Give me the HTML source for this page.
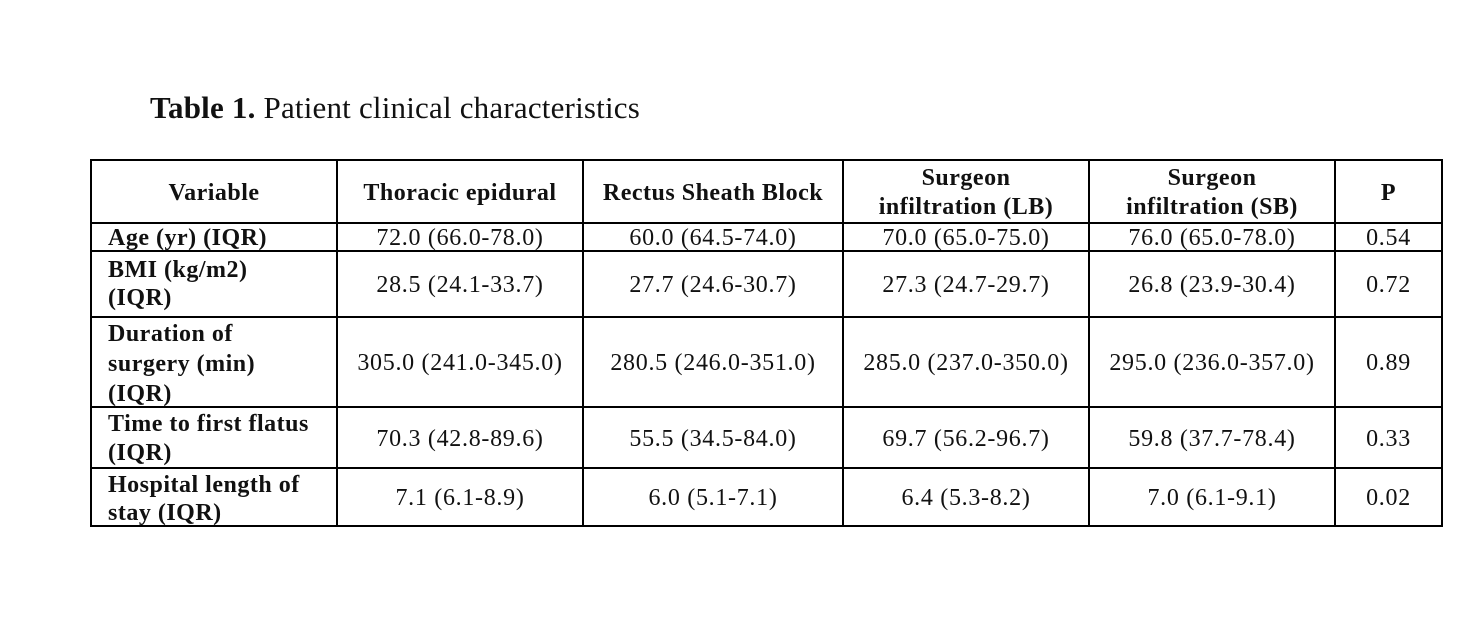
<!DOCTYPE html><html><head><style>
body{margin:0;width:1482px;height:642px;background:#fff;position:relative;overflow:hidden;font-family:"Liberation Serif",serif;color:#111}
.h,.v{position:absolute;background:#000}
.h{height:2px}.v{width:2px}
.c{position:absolute;display:flex;align-items:center;justify-content:center;text-align:center;font-size:24px;letter-spacing:0.7px;line-height:25px;white-space:nowrap;padding-top:3px;box-sizing:border-box}
.l{justify-content:flex-start;text-align:left;padding-left:16px;font-weight:bold;letter-spacing:0.5px}
.b{font-weight:bold;letter-spacing:0.5px}
</style></head><body>
<div style="position:absolute;left:150px;top:90px;font-size:31px;letter-spacing:0.2px"><b>Table 1.</b> Patient clinical characteristics</div>
<div class="h" style="left:90px;width:1353px;top:159px"></div>
<div class="h" style="left:90px;width:1353px;top:222px"></div>
<div class="h" style="left:90px;width:1353px;top:250px"></div>
<div class="h" style="left:90px;width:1353px;top:316px"></div>
<div class="h" style="left:90px;width:1353px;top:406px"></div>
<div class="h" style="left:90px;width:1353px;top:467px"></div>
<div class="h" style="left:90px;width:1353px;top:525px"></div>
<div class="v" style="left:90px;top:159px;height:368px"></div>
<div class="v" style="left:336px;top:159px;height:368px"></div>
<div class="v" style="left:582px;top:159px;height:368px"></div>
<div class="v" style="left:842px;top:159px;height:368px"></div>
<div class="v" style="left:1088px;top:159px;height:368px"></div>
<div class="v" style="left:1334px;top:159px;height:368px"></div>
<div class="v" style="left:1441px;top:159px;height:368px"></div>

<div class="c b" style="left:92px;width:244px;top:161px;height:61px">Variable</div>
<div class="c b" style="left:338px;width:244px;top:161px;height:61px">Thoracic epidural</div>
<div class="c b" style="left:584px;width:258px;top:161px;height:61px">Rectus Sheath Block</div>
<div class="c b" style="left:844px;width:244px;top:161px;height:61px;line-height:29px">Surgeon<br>infiltration (LB)</div>
<div class="c b" style="left:1090px;width:244px;top:161px;height:61px;line-height:29px">Surgeon<br>infiltration (SB)</div>
<div class="c b" style="left:1336px;width:105px;top:161px;height:61px">P</div>

<div class="c l" style="left:92px;width:244px;top:224px;height:26px">Age (yr) (IQR)</div>
<div class="c" style="left:338px;width:244px;top:224px;height:26px">72.0 (66.0-78.0)</div>
<div class="c" style="left:584px;width:258px;top:224px;height:26px">60.0 (64.5-74.0)</div>
<div class="c" style="left:844px;width:244px;top:224px;height:26px">70.0 (65.0-75.0)</div>
<div class="c" style="left:1090px;width:244px;top:224px;height:26px">76.0 (65.0-78.0)</div>
<div class="c" style="left:1336px;width:105px;top:224px;height:26px">0.54</div>

<div class="c l" style="left:92px;width:244px;top:252px;height:64px;line-height:28px;align-items:flex-start;padding-top:4px">BMI (kg/m2)<br>(IQR)</div>
<div class="c" style="left:338px;width:244px;top:252px;height:64px">28.5 (24.1-33.7)</div>
<div class="c" style="left:584px;width:258px;top:252px;height:64px">27.7 (24.6-30.7)</div>
<div class="c" style="left:844px;width:244px;top:252px;height:64px">27.3 (24.7-29.7)</div>
<div class="c" style="left:1090px;width:244px;top:252px;height:64px">26.8 (23.9-30.4)</div>
<div class="c" style="left:1336px;width:105px;top:252px;height:64px">0.72</div>

<div class="c l" style="left:92px;width:244px;top:318px;height:88px;line-height:30px">Duration of<br>surgery (min)<br>(IQR)</div>
<div class="c" style="left:338px;width:244px;top:318px;height:88px">305.0 (241.0-345.0)</div>
<div class="c" style="left:584px;width:258px;top:318px;height:88px">280.5 (246.0-351.0)</div>
<div class="c" style="left:844px;width:244px;top:318px;height:88px">285.0 (237.0-350.0)</div>
<div class="c" style="left:1090px;width:244px;top:318px;height:88px">295.0 (236.0-357.0)</div>
<div class="c" style="left:1336px;width:105px;top:318px;height:88px">0.89</div>

<div class="c l" style="left:92px;width:244px;top:408px;height:59px;line-height:29px">Time to first flatus<br>(IQR)</div>
<div class="c" style="left:338px;width:244px;top:408px;height:59px">70.3 (42.8-89.6)</div>
<div class="c" style="left:584px;width:258px;top:408px;height:59px">55.5 (34.5-84.0)</div>
<div class="c" style="left:844px;width:244px;top:408px;height:59px">69.7 (56.2-96.7)</div>
<div class="c" style="left:1090px;width:244px;top:408px;height:59px">59.8 (37.7-78.4)</div>
<div class="c" style="left:1336px;width:105px;top:408px;height:59px">0.33</div>

<div class="c l" style="left:92px;width:244px;top:469px;height:56px;line-height:28px">Hospital length of<br>stay (IQR)</div>
<div class="c" style="left:338px;width:244px;top:469px;height:56px">7.1 (6.1-8.9)</div>
<div class="c" style="left:584px;width:258px;top:469px;height:56px">6.0 (5.1-7.1)</div>
<div class="c" style="left:844px;width:244px;top:469px;height:56px">6.4 (5.3-8.2)</div>
<div class="c" style="left:1090px;width:244px;top:469px;height:56px">7.0 (6.1-9.1)</div>
<div class="c" style="left:1336px;width:105px;top:469px;height:56px">0.02</div>
</body></html>
